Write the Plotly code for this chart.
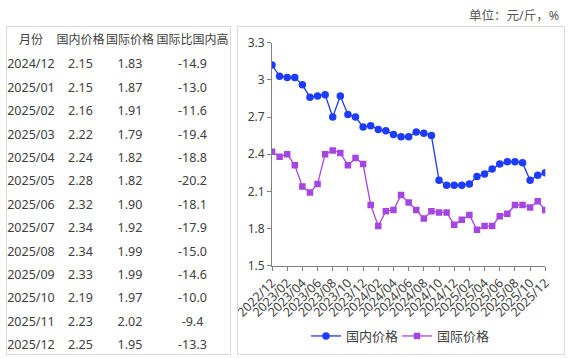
import plotly.graph_objects as go

# ---------------- data ----------------
months = ["2022/12", "2023/01", "2023/02", "2023/03", "2023/04", "2023/05", "2023/06",
          "2023/07", "2023/08", "2023/09", "2023/10", "2023/11", "2023/12",
          "2024/01", "2024/02", "2024/03", "2024/04", "2024/05", "2024/06",
          "2024/07", "2024/08", "2024/09", "2024/10", "2024/11", "2024/12",
          "2025/01", "2025/02", "2025/03", "2025/04", "2025/05", "2025/06",
          "2025/07", "2025/08", "2025/09", "2025/10", "2025/11", "2025/12"]
domestic = [3.12, 3.03, 3.02, 3.02, 2.96, 2.86, 2.87, 2.88, 2.70, 2.87, 2.72, 2.70, 2.62,
            2.63, 2.60, 2.59, 2.56, 2.54, 2.54, 2.58, 2.57, 2.55, 2.19, 2.15, 2.15,
            2.15, 2.16, 2.22, 2.24, 2.28, 2.32, 2.34, 2.34, 2.33, 2.19, 2.23, 2.25]
international = [2.42, 2.38, 2.40, 2.31, 2.14, 2.09, 2.16, 2.40, 2.43, 2.41, 2.31, 2.37, 2.32,
                 1.99, 1.82, 1.94, 1.95, 2.07, 2.01, 1.95, 1.88, 1.94, 1.93, 1.93, 1.83,
                 1.87, 1.91, 1.79, 1.82, 1.82, 1.90, 1.92, 1.99, 1.99, 1.97, 2.02, 1.95]

table_header = ["月份", "国内价格", "国际价格", "国际比国内高"]
table_months = ["2024/12", "2025/01", "2025/02", "2025/03", "2025/04", "2025/05", "2025/06",
                "2025/07", "2025/08", "2025/09", "2025/10", "2025/11", "2025/12"]
table_domestic = ["2.15", "2.15", "2.16", "2.22", "2.24", "2.28", "2.32",
                  "2.34", "2.34", "2.33", "2.19", "2.23", "2.25"]
table_international = ["1.83", "1.87", "1.91", "1.79", "1.82", "1.82", "1.90",
                       "1.92", "1.99", "1.99", "1.97", "2.02", "1.95"]
table_gap = ["-14.9", "-13.0", "-11.6", "-19.4", "-18.8", "-20.2", "-18.1",
             "-17.9", "-15.0", "-14.6", "-10.0", "-9.4", "-13.3"]

x_tickvals = months[::2]
y_tickvals = [1.5, 1.8, 2.1, 2.4, 2.7, 3.0, 3.3]
y_ticktext = ["1.5", "1.8", "2.1", "2.4", "2.7", "3", "3.3"]

# ---------------- styling ----------------
W, H = 570, 358
FONT = "Noto Sans, Noto Sans CJK SC, sans-serif"
TXT = "#404040"
BLUE = "#1e3cff"
PURPLE = "#a646e2"

def px(x):
    return x / W

def py(y):
    return 1 - y / H

fig = go.Figure()

fig.add_trace(go.Table(
    domain=dict(x=[px(6), px(230)], y=[py(354), py(27)]),
    columnwidth=[50, 49, 50, 75],
    header=dict(values=table_header, align="center", height=24,
                font=dict(family=FONT, size=12, color=TXT),
                fill=dict(color="white"), line=dict(color="white", width=0)),
    cells=dict(values=[table_months, table_domestic, table_international, table_gap],
               align="center", height=23.4,
               font=dict(family=FONT, size=12.5, color=TXT),
               fill=dict(color="white"), line=dict(color="white", width=0)),
))

fig.add_trace(go.Scatter(
    x=months, y=domestic, name="国内价格", mode="lines+markers",
    line=dict(color=BLUE, width=1.3),
    marker=dict(symbol="circle", size=7.5, color=BLUE),
    legend="legend",
))
fig.add_trace(go.Scatter(
    x=months, y=international, name="国际价格", mode="lines+markers",
    line=dict(color=PURPLE, width=1.3),
    marker=dict(symbol="square", size=6.5, color=PURPLE),
    legend="legend2",
))

legend_common = dict(orientation="h", xanchor="left", y=py(336), yanchor="middle",
                     font=dict(family=FONT, size=13, color=TXT), bgcolor="rgba(0,0,0,0)")

fig.update_layout(
    width=W, height=H,
    margin=dict(l=0, r=0, t=0, b=0, autoexpand=False),
    paper_bgcolor="white", plot_bgcolor="white",
    font=dict(family=FONT, color=TXT, size=12),
    showlegend=True,
    legend=dict(x=px(306), **legend_common),
    legend2=dict(x=px(397), **legend_common),
    xaxis=dict(domain=[px(272), px(545.3)], type="category", range=[0, 36],
               tickmode="array", tickvals=x_tickvals, ticktext=x_tickvals,
               tickangle=-45, ticks="outside", ticklen=4, tickcolor="#808080",
               showline=True, linecolor="#808080", linewidth=1, showgrid=False,
               zeroline=False, automargin=False, tickfont=dict(size=12.5, color=TXT)),
    yaxis=dict(domain=[py(265.7), py(42.7)], range=[1.5, 3.3],
               tickmode="array", tickvals=y_tickvals, ticktext=y_ticktext,
               ticks="outside", ticklen=4, tickcolor="#808080",
               showline=True, linecolor="#808080", linewidth=1, showgrid=False,
               zeroline=False, automargin=False, tickfont=dict(size=12, color=TXT)),
    shapes=[
        dict(type="rect", xref="paper", yref="paper", x0=px(6.5), x1=px(230.5),
             y0=py(354.5), y1=py(26.5), line=dict(color="#d9d9d9", width=1)),
        dict(type="rect", xref="paper", yref="paper", x0=px(237.5), x1=px(564.5),
             y0=py(354.5), y1=py(26.5), line=dict(color="#d9d9d9", width=1)),
    ],
    annotations=[
        dict(text="单位：元/斤，%", xref="paper", yref="paper", x=px(561), y=py(15),
             xanchor="right", yanchor="middle", showarrow=False,
             font=dict(family=FONT, size=12.5, color="#595959")),
    ],
)

fig.write_html("out.html", config={"displayModeBar": False},
               post_script="document.body.style.margin='0';document.body.style.overflow='hidden';")
